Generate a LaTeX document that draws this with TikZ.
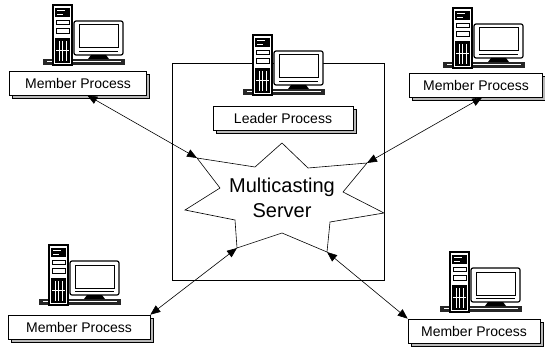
\documentclass[tikz,border=0pt]{standalone}
\usepackage{fontspec}
\setmainfont{Liberation Sans}
\usetikzlibrary{arrows.meta, positioning, shadows}

% desktop computer: tower beside a monitor, origin at top left
\tikzset{
  pc/.pic={
    \fill[black!85] (0,54) rectangle (82,60);
    \draw[white, line width=0.5pt] (4,56.5) -- (78,56.5);
    \filldraw[fill=white, line width=1.2pt, rounded corners=2pt] (31,16) rectangle (80,50);
    \draw[line width=1pt] (36,20) rectangle (75,43);
    \draw[line width=0.6pt] (36,46) -- (75,46);
    \fill (48,50) -- (63,50) -- (66,54) -- (45,54) -- cycle;
    \filldraw[fill=white, line width=1.2pt] (10,0) rectangle (29,60);
    \fill (12,3) rectangle (27,12);
    \draw[white, line width=0.6pt] (14,5.5) -- (22,5.5) (14,9) -- (20,9);
    \draw[line width=0.8pt] (13,15) rectangle (26,19);
    \draw[line width=0.8pt] (13,23) rectangle (26,28);
    \fill (12,33) rectangle (27,58);
    \draw[white, line width=0.5pt] (16,36) -- (16,56) (19.5,36) -- (19.5,56)
      (23,36) -- (23,56) (13,45) -- (26,45);
  }
}

\begin{document}
\begin{tikzpicture}[
    x=1pt, y=-1pt,
    proc/.style={draw, fill=white, line width=0.6pt, minimum height=24pt,
      font=\fontsize{14}{16}\selectfont,
      general shadow={shadow xshift=3pt, shadow yshift=-3pt, fill=gray!55, draw=black, line width=0.4pt}},
    link/.style={{Triangle[length=10pt,width=8pt]}-{Triangle[length=10pt,width=8pt]}, line width=0.6pt}
]
    \useasboundingbox (0,0) rectangle (545,350);

    % leader's frame
    \draw[line width=0.7pt] (172,63) rectangle (384,280);

    % star shaped server
    \coordinate (p1) at (197,158);
    \coordinate (p2) at (282,143);
    \coordinate (p3) at (367,163);
    \coordinate (p4) at (384,213);
    \coordinate (p5) at (327,252);
    \coordinate (p6) at (237,248);
    \coordinate (p7) at (185,210);
    \filldraw[fill=white, line width=0.6pt] (p1) -- (255,167) -- (p2) -- (308,168) -- (p3)
      -- (343,192) -- (p4) -- (330,222) -- (p5) -- (282,233) -- (p6)
      -- (235,220) -- (p7) -- (220,188) -- cycle;
    \node[align=center, font=\fontsize{20}{25}\selectfont] (server) at (282,198) {Multicasting\\Server};

    % computers
    \pic at (43,5) {pc};
    \pic at (443,8) {pc};
    \pic at (243,35) {pc};
    \pic at (39,245) {pc};
    \pic at (440,252) {pc};

    % process labels
    \node[proc, minimum width=137pt] (m1) at (78,83) {Member Process};
    \node[proc, minimum width=133pt] (m2) at (476,85) {Member Process};
    \node[proc, minimum width=140pt] (leader) at (283,118) {Leader Process};
    \node[proc, minimum width=142pt] (m3) at (79,327) {Member Process};
    \node[proc, minimum width=132pt] (m4) at (474,331) {Member Process};

    % links to the server
    \draw[link] (m1.-53) -- (p1);
    \draw[link] (m2.-63) -- (p3);
    \draw[link] (m3.north east) -- (p6);
    \draw[link] (m4.north west) -- (p5);
\end{tikzpicture}
\end{document}
